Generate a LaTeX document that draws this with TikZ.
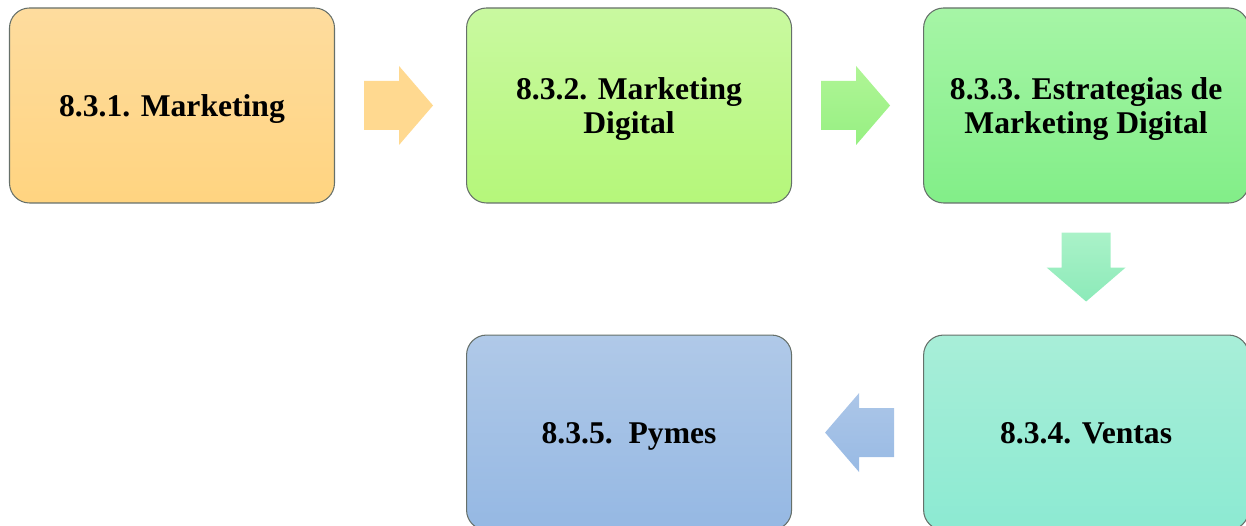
\documentclass[tikz,border=0pt]{standalone}
\usepackage{fontspec}
\setmainfont{Liberation Serif}
\usetikzlibrary{positioning, calc}
\definecolor{boxline}{HTML}{66706A}
\tikzset{
  tema/.style={draw=boxline, line width=0.6pt, rounded corners=0.4cm,
    minimum width=6.5cm, minimum height=3.9cm, align=center, text depth=0pt,
    font=\fontsize{18}{19}\selectfont\bfseries},
  flecha/.pic={
    \path[pic actions] (-0.69,-0.49) -- (0.01,-0.49) -- (0.01,-0.79) -- (0.69,0)
      -- (0.01,0.79) -- (0.01,0.49) -- (-0.69,0.49) -- cycle;
  }
}
\begin{document}
\begin{tikzpicture}[node distance=2.62cm]
\clip (0,0) rectangle (24.92,-10.52);
\node[tema, top color={rgb,255:red,254;green,220;blue,158}, bottom color={rgb,255:red,255;green,212;blue,128}] (m1) at (3.44,-2.11) {8.3.1. Marketing};
\node[tema, top color={rgb,255:red,201;green,249;blue,160}, bottom color={rgb,255:red,181;green,247;blue,122}, right=of m1] (m2) {8.3.2. Marketing\\Digital};
\node[tema, top color={rgb,255:red,166;green,245;blue,166}, bottom color={rgb,255:red,130;green,238;blue,136}, right=of m2] (m3) {8.3.3. Estrategias de\\Marketing Digital};
\node[tema, top color={rgb,255:red,168;green,238;blue,216}, bottom color={rgb,255:red,140;green,234;blue,210}, below=of m3] (m4) {8.3.4. Ventas};
\node[tema, top color={rgb,255:red,176;green,201;blue,232}, bottom color={rgb,255:red,149;green,184;blue,227}, left=of m4] (m5) {8.3.5.~~Pymes};
% flechas entre temas
\pic[fill={rgb,255:red,255;green,217;blue,144}] at ($(m1.east)!0.5!(m2.west)+(-0.04,0)$) {flecha};
\pic[top color={rgb,255:red,176;green,245;blue,150}, bottom color={rgb,255:red,150;green,240;blue,130}] at ($(m2.east)!0.5!(m3.west)+(-0.04,0)$) {flecha};
\pic[rotate=-90, top color={rgb,255:red,170;green,242;blue,200}, bottom color={rgb,255:red,140;green,234;blue,185}] at ($(m3.south)!0.5!(m4.north)+(0,0.04)$) {flecha};
\pic[rotate=180, top color={rgb,255:red,172;green,198;blue,232}, bottom color={rgb,255:red,152;green,186;blue,228}] at ($(m4.west)!0.5!(m5.east)+(0.04,0)$) {flecha};
\end{tikzpicture}
\end{document}
